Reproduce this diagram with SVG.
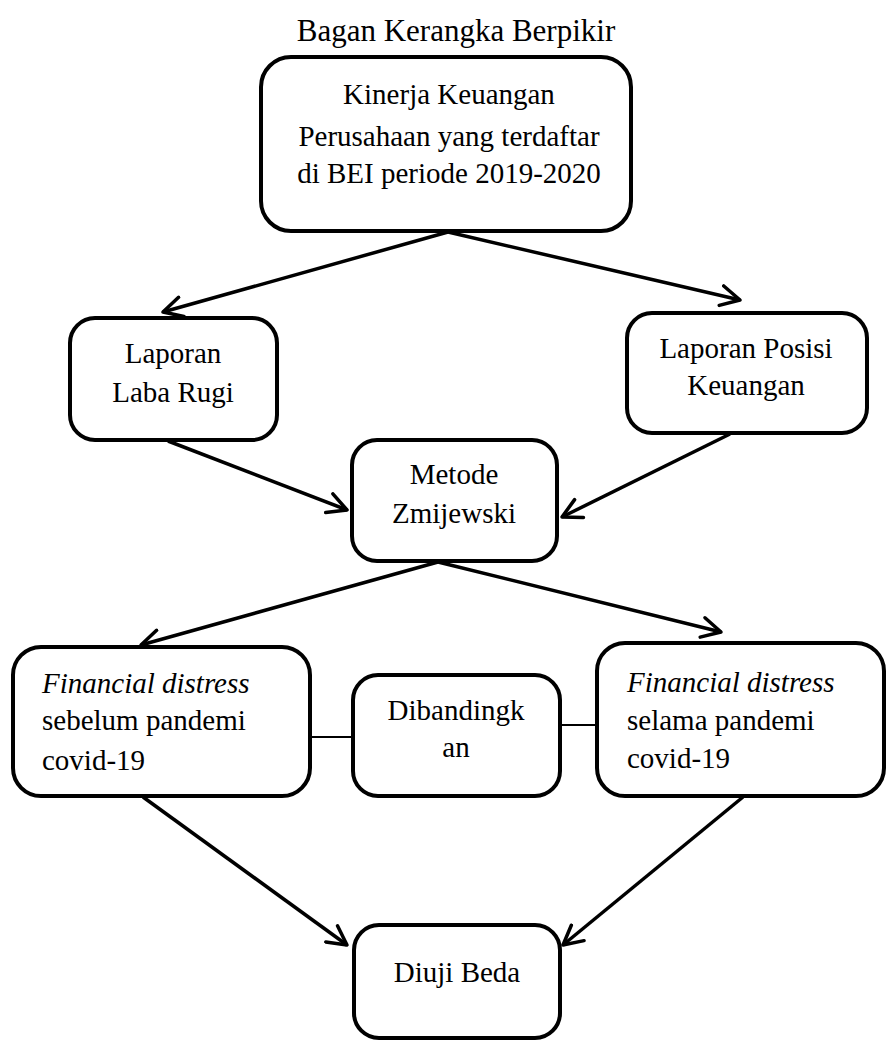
<svg xmlns="http://www.w3.org/2000/svg" width="887" height="1041" viewBox="0 0 887 1041">
  <style>
    .box { fill: #ffffff; stroke: #000000; stroke-width: 4; }
    .arrow { fill: none; stroke: #000000; stroke-width: 3.5; marker-end: url(#open); }
    .link { fill: none; stroke: #000000; stroke-width: 2; }
  </style>
  <defs>
    <marker id="open" viewBox="0 0 24 24" refX="21" refY="12" markerWidth="24" markerHeight="24" markerUnits="userSpaceOnUse" orient="auto">
      <path d="M2,2 L21,12 L2,22" fill="none" stroke="#000000" stroke-width="3.5" stroke-linejoin="round" stroke-linecap="round"/>
    </marker>
  </defs>
  <rect width="887" height="1041" fill="#ffffff"/>

  <text x="456" y="41" style="font-family: 'Liberation Serif', serif; font-size: 31px; text-anchor: middle">Bagan Kerangka Berpikir</text>

  <g id="connectors">
    <line class="arrow" x1="448" y1="232" x2="163" y2="312"/>
    <line class="arrow" x1="448" y1="232" x2="740" y2="300"/>
    <line class="arrow" x1="168" y1="441" x2="347" y2="510"/>
    <line class="arrow" x1="730" y1="434" x2="562" y2="517"/>
    <line class="arrow" x1="438" y1="562" x2="141" y2="645"/>
    <line class="arrow" x1="438" y1="562" x2="721" y2="632"/>
    <line class="arrow" x1="143" y1="797" x2="347" y2="945"/>
    <line class="arrow" x1="743" y1="797" x2="563" y2="945"/>
    <line class="link" x1="310" y1="737" x2="353" y2="737"/>
    <line class="link" x1="560" y1="725" x2="597" y2="725"/>
  </g>

  <g id="node-kinerja">
    <rect class="box" x="261" y="57" width="370" height="174" rx="30"/>
    <text x="449" y="104" style="font-family: 'Liberation Serif', serif; font-size: 29px; text-anchor: middle">Kinerja Keuangan</text>
    <text x="449" y="146" style="font-family: 'Liberation Serif', serif; font-size: 29px; text-anchor: middle">Perusahaan yang terdaftar</text>
    <text x="449" y="183" style="font-family: 'Liberation Serif', serif; font-size: 29px; text-anchor: middle">di BEI periode 2019-2020</text>
  </g>

  <g id="node-labarugi">
    <rect class="box" x="70" y="318" width="207" height="122" rx="25"/>
    <text x="173" y="363" style="font-family: 'Liberation Serif', serif; font-size: 29px; text-anchor: middle">Laporan</text>
    <text x="173" y="402" style="font-family: 'Liberation Serif', serif; font-size: 29px; text-anchor: middle">Laba Rugi</text>
  </g>

  <g id="node-posisi">
    <rect class="box" x="627" y="313" width="240" height="120" rx="25"/>
    <text x="746" y="358" style="font-family: 'Liberation Serif', serif; font-size: 29px; text-anchor: middle">Laporan Posisi</text>
    <text x="746" y="395" style="font-family: 'Liberation Serif', serif; font-size: 29px; text-anchor: middle">Keuangan</text>
  </g>

  <g id="node-metode">
    <rect class="box" x="352" y="440" width="205" height="121" rx="25"/>
    <text x="454" y="484" style="font-family: 'Liberation Serif', serif; font-size: 29px; text-anchor: middle">Metode</text>
    <text x="454" y="523" style="font-family: 'Liberation Serif', serif; font-size: 29px; text-anchor: middle">Zmijewski</text>
  </g>

  <g id="node-sebelum">
    <rect class="box" x="13" y="647" width="297" height="149" rx="28"/>
    <text x="42" y="693" style="font-family: 'Liberation Serif', serif; font-size: 29px; font-style: italic">Financial distress</text>
    <text x="42" y="730" style="font-family: 'Liberation Serif', serif; font-size: 29px">sebelum pandemi</text>
    <text x="42" y="770" style="font-family: 'Liberation Serif', serif; font-size: 29px">covid-19</text>
  </g>

  <g id="node-dibandingkan">
    <rect class="box" x="353" y="675" width="207" height="121" rx="25"/>
    <text x="456" y="720" style="font-family: 'Liberation Serif', serif; font-size: 29px; text-anchor: middle">Dibandingk</text>
    <text x="456" y="757" style="font-family: 'Liberation Serif', serif; font-size: 29px; text-anchor: middle">an</text>
  </g>

  <g id="node-selama">
    <rect class="box" x="597" y="643" width="287" height="153" rx="28"/>
    <text x="627" y="692" style="font-family: 'Liberation Serif', serif; font-size: 29px; font-style: italic">Financial distress</text>
    <text x="627" y="730" style="font-family: 'Liberation Serif', serif; font-size: 29px">selama pandemi</text>
    <text x="627" y="768" style="font-family: 'Liberation Serif', serif; font-size: 29px">covid-19</text>
  </g>

  <g id="node-diuji">
    <rect class="box" x="354" y="925" width="206" height="113" rx="25"/>
    <text x="457" y="982" style="font-family: 'Liberation Serif', serif; font-size: 29px; text-anchor: middle">Diuji Beda</text>
  </g>
</svg>
